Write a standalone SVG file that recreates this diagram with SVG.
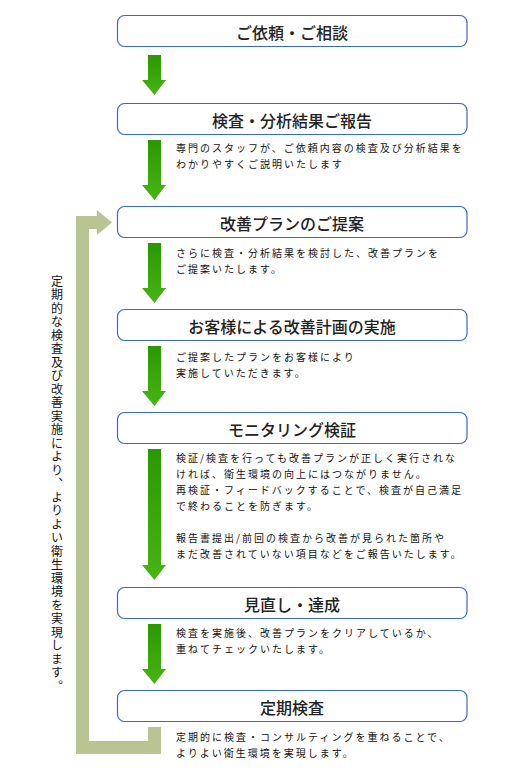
<svg xmlns="http://www.w3.org/2000/svg" width="508" height="774" viewBox="0 0 508 774">
<defs>
<linearGradient id="g" x1="0" y1="0" x2="0" y2="1">
<stop offset="0" stop-color="#2a9800"/>
<stop offset="1" stop-color="#48b414"/>
</linearGradient>
</defs>
<style>
.box{fill:#fff;stroke:#3a68c8;stroke-width:1.2}
.t{font-family:"Noto Sans CJK JP","Noto Sans",sans-serif;font-size:16px;font-weight:500;fill:#222;text-anchor:middle;dominant-baseline:central}
.d{font-family:"Noto Sans CJK JP","Noto Sans",sans-serif;font-size:10px;letter-spacing:2px;fill:#111;dominant-baseline:central}
.arr{fill:url(#g)}
.loop{fill:#b9c493}
.v{font-family:"Noto Sans CJK JP","Noto Sans",sans-serif;font-size:12px;letter-spacing:1.5px;fill:#111;writing-mode:vertical-rl;text-orientation:upright}
</style>
<rect width="508" height="774" fill="#fff"/>
<g id="connectors">
<polygon class="loop" points="76,754 76,216 97,216 97,210 112,222.5 97,235 97,229 89,229 89,741 148,741 148,727 161,727 161,754"/>
<polygon class="arr" points="148,55 161,55 161,80 166,80 154.5,95 142,80 148,80"/>
<polygon class="arr" points="148,140 161,140 161,185 166,185 154.5,200 142,185 148,185"/>
<polygon class="arr" points="148,243 161,243 161,288 166,288 154.5,303 142,288 148,288"/>
<polygon class="arr" points="148,346 161,346 161,391 166,391 154.5,406 142,391 148,391"/>
<polygon class="arr" points="148,449 161,449 161,565 166,565 154.5,580 142,565 148,565"/>
<polygon class="arr" points="148,624 161,624 161,669 166,669 154.5,684 142,669 148,669"/>
</g>
<g id="node1">
<rect class="box" x="117.5" y="15.5" width="349.5" height="31" rx="7"/>
<text class="t" x="292" y="31.5">ご依頼・ご相談</text>
</g>
<g id="node2">
<rect class="box" x="117.5" y="103.5" width="349.5" height="31" rx="7"/>
<text class="t" x="292" y="119.5">検査・分析結果ご報告</text>
<text class="d" x="176" y="147">専門のスタッフが、ご依頼内容の検査及び分析結果を</text>
<text class="d" x="176" y="163">わかりやすくご説明いたします</text>
</g>
<g id="node3">
<rect class="box" x="117.5" y="206.5" width="349.5" height="31" rx="7"/>
<text class="t" x="292" y="222.5">改善プランのご提案</text>
<text class="d" x="176" y="252">さらに検査・分析結果を検討した、改善プランを</text>
<text class="d" x="176" y="268">ご提案いたします。</text>
</g>
<g id="node4">
<rect class="box" x="117.5" y="309.5" width="349.5" height="31" rx="7"/>
<text class="t" x="292" y="325.5">お客様による改善計画の実施</text>
<text class="d" x="176" y="356">ご提案したプランをお客様により</text>
<text class="d" x="176" y="372">実施していただきます。</text>
</g>
<g id="node5">
<rect class="box" x="117.5" y="412.5" width="349.5" height="31" rx="7"/>
<text class="t" x="292" y="428.5">モニタリング検証</text>
<text class="d" x="176" y="457">検証/検査を行っても改善プランが正しく実行されな</text>
<text class="d" x="176" y="473">ければ、衛生環境の向上にはつながりません。</text>
<text class="d" x="176" y="489">再検証・フィードバックすることで、検査が自己満足</text>
<text class="d" x="176" y="505">で終わることを防ぎます。</text>
<text class="d" x="176" y="537">報告書提出/前回の検査から改善が見られた箇所や</text>
<text class="d" x="176" y="553">まだ改善されていない項目などをご報告いたします。</text>
</g>
<g id="node6">
<rect class="box" x="117.5" y="587.5" width="349.5" height="31" rx="7"/>
<text class="t" x="292" y="603.5">見直し・達成</text>
<text class="d" x="176" y="632">検査を実施後、改善プランをクリアしているか、</text>
<text class="d" x="176" y="648">重ねてチェックいたします。</text>
</g>
<g id="node7">
<rect class="box" x="117.5" y="690.5" width="349.5" height="31" rx="7"/>
<text class="t" x="292" y="706.5">定期検査</text>
<text class="d" x="176" y="736">定期的に検査・コンサルティングを重ねることで、</text>
<text class="d" x="176" y="752">よりよい衛生環境を実現します。</text>
</g>
<g id="loop-label">
<text class="v" x="57" y="275">定期的な検査及び改善実施により、よりよい衛生環境を実現します。</text>
</g>
</svg>
